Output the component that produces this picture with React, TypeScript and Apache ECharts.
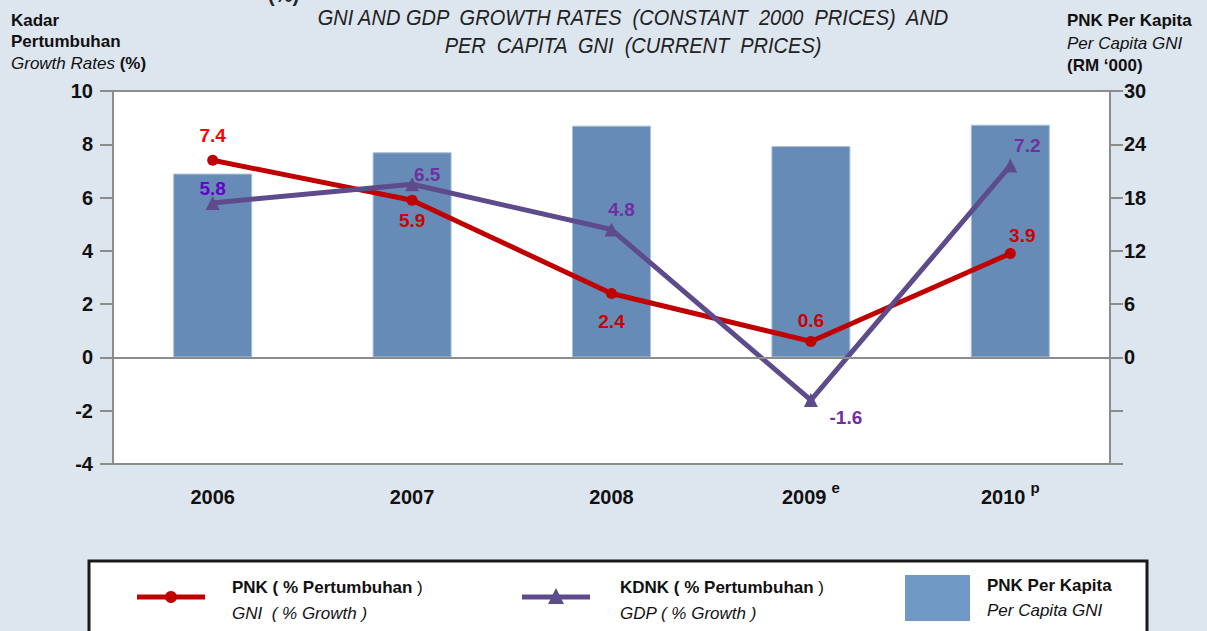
import React, { useEffect, useRef } from "react";
import * as echarts from "echarts";

const categories = ["2006", "2007", "2008", "2009", "2010"];
const categorySup = ["", "", "", "e", "p"];
const pnkGrowth = [7.4, 5.9, 2.4, 0.6, 3.9];
const kdnkGrowth = [5.8, 6.5, 4.8, -1.6, 7.2];
const perCapitaGni = [20.7, 23.1, 26.1, 23.8, 26.2];

const leftTicks = { min: -4, max: 10, interval: 2 };
const rightTicks = { min: -12, max: 30, interval: 6 };

const SANS = "'Liberation Sans', Arial, sans-serif";

const pnkLabelStyle = [
  { position: "top", distance: 10, color: "#ff0000" },
  { position: "bottom", distance: 5, color: "#cc0000" },
  { position: "bottom", distance: 13, color: "#cc0000" },
  { position: "top", distance: 6, color: "#cc0000" },
  { position: "top", distance: 3, offset: [12, 0], color: "#cc0000" },
];
const kdnkLabelStyle = [
  { position: "top", distance: 2, offset: [0, 4], color: "#6600cc" },
  { position: "top", distance: 0, offset: [15, 7], color: "#7030a0" },
  { position: "top", distance: 11, offset: [10, 7], color: "#7030a0" },
  { position: "bottom", distance: 6, offset: [35, -5], color: "#7030a0" },
  { position: "top", distance: 11, offset: [17, 7], color: "#7030a0" },
];

const GRAY = "#8c8c8c";

export default function App() {
  const ref = useRef<HTMLDivElement>(null);
  useEffect(() => {
    document.body.style.margin = "0";
    const chart = echarts.init(ref.current!, null, { renderer: "svg" });
    const labelFont = { fontFamily: SANS, fontWeight: "bold", fontSize: 20 };
    const option: any = {
      animation: false,
      backgroundColor: "#dde5ef",
      grid: {
        left: 113,
        right: 97,
        top: 91,
        bottom: 167,
        show: true,
        backgroundColor: "#ffffff",
        borderColor: GRAY,
        borderWidth: 2,
        containLabel: false,
        outerBoundsMode: "none",
      },
      xAxis: {
        type: "category",
        data: categories,
        boundaryGap: true,
        axisTick: { show: false },
        axisLine: { show: true, onZero: false, lineStyle: { color: GRAY, width: 2 } },
        axisLabel: {
          margin: 16,
          color: "#111",
          fontFamily: SANS,
          fontWeight: "bold",
          fontSize: 20,
          formatter: (v: string, i: number) =>
            categorySup[i] ? `{b|${v}}{s|${categorySup[i]}}` : `{b|${v}}`,
          rich: {
            b: { fontFamily: SANS, fontWeight: "bold", fontSize: 20, lineHeight: 34, color: "#111" },
            s: { fontFamily: SANS, fontWeight: "bold", fontSize: 15, lineHeight: 14, color: "#111", verticalAlign: "top", padding: [0, 0, 0, 5] },
          },
        },
      },
      yAxis: [
        {
          type: "value",
          min: leftTicks.min,
          max: leftTicks.max,
          interval: leftTicks.interval,
          axisLine: { show: true, lineStyle: { color: GRAY, width: 2 } },
          axisTick: { show: true, length: 13, lineStyle: { color: GRAY, width: 2 } },
          splitLine: { show: false },
          axisLabel: { margin: 20, color: "#111", ...labelFont },
        },
        {
          type: "value",
          min: rightTicks.min,
          max: rightTicks.max,
          interval: rightTicks.interval,
          position: "right",
          axisLine: { show: true, lineStyle: { color: GRAY, width: 2 } },
          axisTick: { show: true, length: 13, lineStyle: { color: GRAY, width: 2 } },
          splitLine: { show: false },
          axisLabel: {
            margin: 14,
            color: "#111",
            ...labelFont,
            formatter: (v: number) => (v < 0 ? "" : String(v)),
          },
        },
      ],
      series: [
        {
          name: "PNK Per Kapita",
          type: "bar",
          yAxisIndex: 1,
          data: perCapitaGni,
          barWidth: 79,
          itemStyle: { color: "#678bb7", borderColor: "#a9bfdc", borderWidth: 1 },
          z: 1,
        },
        {
          name: "PNK",
          type: "line",
          yAxisIndex: 0,
          data: pnkGrowth.map((v, i) => ({
            value: v,
            label: { ...pnkLabelStyle[i] },
          })),
          symbol: "circle",
          symbolSize: 11,
          lineStyle: { color: "#c00000", width: 5 },
          itemStyle: { color: "#c00000" },
          label: { show: true, ...labelFont, fontSize: 19 },
          markLine: {
            silent: true,
            symbol: "none",
            label: { show: false },
            lineStyle: { color: GRAY, width: 2, type: "solid" },
            data: [{ yAxis: 0 }],
          },
          z: 3,
        },
        {
          name: "KDNK",
          type: "line",
          yAxisIndex: 0,
          data: kdnkGrowth.map((v, i) => ({
            value: v,
            label: { ...kdnkLabelStyle[i] },
          })),
          symbol: "triangle",
          symbolSize: 14,
          lineStyle: { color: "#5e4b8b", width: 5 },
          itemStyle: { color: "#5e4b8b" },
          label: { show: true, ...labelFont, fontSize: 19 },
          z: 4,
        },
      ],
      graphic: [
        // top cut-off text
        { type: "text", style: { text: "(%)", x: 268, y: -5, align: "left", verticalAlign: "middle", fontFamily: SANS, fontWeight: "bold", fontSize: 20, fill: "#222" } },
        // title
        { type: "text", x: 633, y: 17, scaleX: 0.91, style: { text: "GNI AND GDP  GROWTH RATES  (CONSTANT  2000  PRICES)  AND", x: 0, y: 0, align: "center", verticalAlign: "middle", fontFamily: SANS, fontStyle: "italic", fontSize: 22, fill: "#222" } },
        { type: "text", x: 633, y: 45, scaleX: 0.91, style: { text: "PER  CAPITA  GNI  (CURRENT  PRICES)", x: 0, y: 0, align: "center", verticalAlign: "middle", fontFamily: SANS, fontStyle: "italic", fontSize: 22, fill: "#222" } },
        // left axis name
        { type: "text", style: { text: "Kadar", x: 11, y: 20, verticalAlign: "middle", fontFamily: SANS, fontWeight: "bold", fontSize: 17, fill: "#111" } },
        { type: "text", style: { text: "Pertumbuhan", x: 11, y: 41, verticalAlign: "middle", fontFamily: SANS, fontWeight: "bold", fontSize: 17, fill: "#111" } },
        {
          type: "text",
          style: {
            text: "{i|Growth Rates }{b|(%)}",
            x: 11, y: 63, verticalAlign: "middle",
            rich: {
              i: { fontFamily: SANS, fontStyle: "italic", fontSize: 17, fill: "#111" },
              b: { fontFamily: SANS, fontWeight: "bold", fontSize: 17, fill: "#111" },
            },
          },
        },
        // right axis name
        { type: "text", style: { text: "PNK Per Kapita", x: 1067, y: 20, verticalAlign: "middle", fontFamily: SANS, fontWeight: "bold", fontSize: 17, fill: "#111" } },
        { type: "text", style: { text: "Per Capita GNI", x: 1067, y: 43, verticalAlign: "middle", fontFamily: SANS, fontStyle: "italic", fontSize: 17, fill: "#111" } },
        { type: "text", style: { text: "(RM \u2018000)", x: 1067, y: 65, verticalAlign: "middle", fontFamily: SANS, fontWeight: "bold", fontSize: 17, fill: "#111" } },
        // legend box
        { type: "rect", shape: { x: 89, y: 561, width: 1058, height: 90 }, style: { fill: "#ffffff", stroke: "#1a1a1a", lineWidth: 3 } },
        { type: "line", shape: { x1: 137, y1: 597, x2: 205, y2: 597 }, style: { stroke: "#c00000", lineWidth: 5 } },
        { type: "circle", shape: { cx: 171, cy: 597, r: 6 }, style: { fill: "#c00000" } },
        {
          type: "text",
          style: {
            text: "{b|PNK ( % Pertumbuhan }{n|)}",
            x: 232, y: 587, verticalAlign: "middle",
            rich: {
              b: { fontFamily: SANS, fontWeight: "bold", fontSize: 17, fill: "#111" },
              n: { fontFamily: SANS, fontSize: 17, fill: "#111" },
            },
          },
        },
        { type: "text", style: { text: "GNI  ( % Growth )", x: 232, y: 613, verticalAlign: "middle", fontFamily: SANS, fontStyle: "italic", fontSize: 17, fill: "#111" } },
        { type: "line", shape: { x1: 522, y1: 597, x2: 590, y2: 597 }, style: { stroke: "#5e4b8b", lineWidth: 5 } },
        { type: "polygon", shape: { points: [[548, 604], [564, 604], [556, 588]] }, style: { fill: "#5e4b8b" } },
        {
          type: "text",
          style: {
            text: "{b|KDNK ( % Pertumbuhan }{n|)}",
            x: 620, y: 587, verticalAlign: "middle",
            rich: {
              b: { fontFamily: SANS, fontWeight: "bold", fontSize: 17, fill: "#111" },
              n: { fontFamily: SANS, fontSize: 17, fill: "#111" },
            },
          },
        },
        { type: "text", style: { text: "GDP ( % Growth )", x: 620, y: 613, verticalAlign: "middle", fontFamily: SANS, fontStyle: "italic", fontSize: 17, fill: "#111" } },
        { type: "rect", shape: { x: 905, y: 575, width: 65, height: 46 }, style: { fill: "#7099c6" } },
        { type: "text", style: { text: "PNK Per Kapita", x: 987, y: 585, verticalAlign: "middle", fontFamily: SANS, fontWeight: "bold", fontSize: 17, fill: "#111" } },
        { type: "text", style: { text: "Per Capita GNI", x: 987, y: 610, verticalAlign: "middle", fontFamily: SANS, fontStyle: "italic", fontSize: 17, fill: "#111" } },
      ],
    };
    chart.setOption(option);
    return () => chart.dispose();
  }, []);
  return (
    <div
      ref={ref}
      style={{ position: "absolute", left: 0, top: 0, width: 1207, height: 631 }}
    />
  );
}
